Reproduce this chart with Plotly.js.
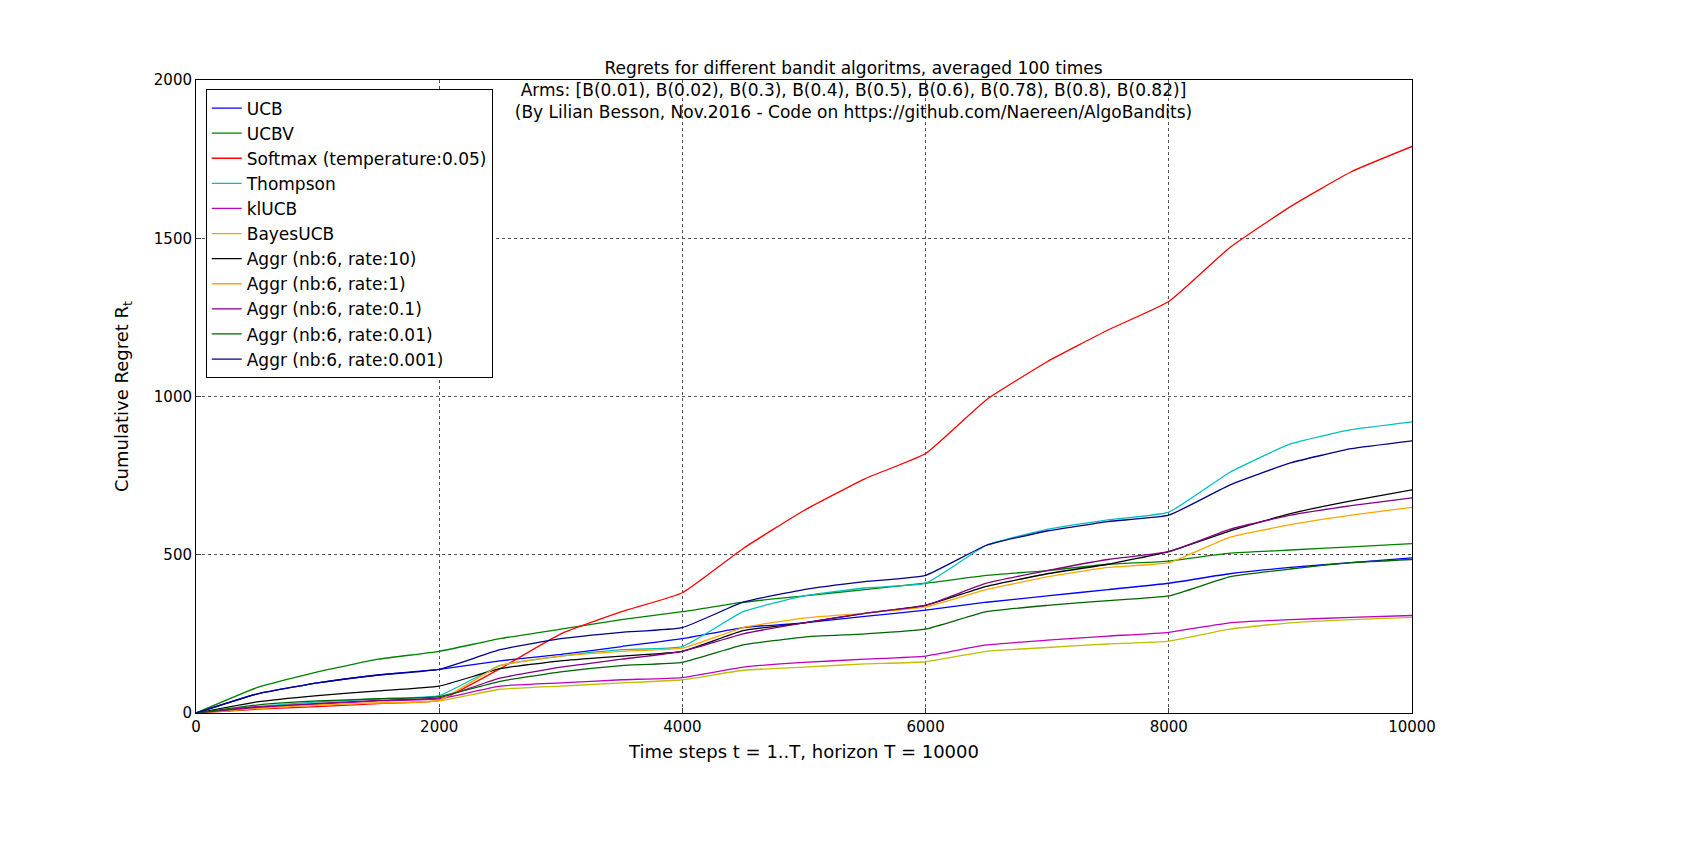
<!DOCTYPE html>
<html>
<head>
<script src="https://cdn.plot.ly/plotly-3.0.1.min.js"></script>
<style>body{margin:0}#plot{width:1707px;height:863px}</style>
</head>
<body>
<div id="plot"></div>
<script>
var steps = [0,500,1000,1500,2000,2500,3000,3500,4000,4500,5000,5500,6000,6500,7000,7500,8000,8500,9000,9500,10000];
var xTicks = [0,2000,4000,6000,8000,10000];
var xTickText = ["0","2000","4000","6000","8000","10000"];

var names = ["UCB","UCBV","Softmax (temperature:0.05)","Thompson","klUCB","BayesUCB",
  "Aggr (nb:6, rate:10)","Aggr (nb:6, rate:1)","Aggr (nb:6, rate:0.1)","Aggr (nb:6, rate:0.01)","Aggr (nb:6, rate:0.001)"];
var colors = ["#0000ff","#008000","#ff0000","#00bfbf","#bf00bf","#bfbf00",
  "#000000","#ffa500","#800080","#006400","#00008b"];

var ucb      = [0,60,95,120,138,165,185,210,235,270,285,305,325,350,370,390,410,440,460,475,490];
var ucbv     = [0,80,130,170,195,235,265,295,320,350,370,390,410,435,450,470,480,505,515,525,535];
var softmax  = [0,12,20,30,40,140,250,320,380,520,640,740,820,990,1110,1210,1300,1470,1600,1710,1790];
var thompson = [0,20,35,45,55,150,180,200,210,320,370,395,410,530,580,610,635,760,850,895,920];
var klucb    = [0,20,28,38,45,85,95,105,112,145,160,170,180,215,230,243,255,285,295,302,308];
var bayesucb = [0,15,25,32,38,75,85,95,105,135,145,155,162,195,207,218,227,265,285,295,302];
var aggr10   = [0,35,55,70,85,140,165,180,195,260,285,315,340,400,440,470,510,575,630,670,705];
var aggr1    = [0,15,25,32,40,150,180,195,205,270,300,315,335,390,430,460,475,555,595,625,650];
var aggr01   = [0,18,30,40,48,110,145,170,195,250,285,315,340,410,450,485,510,580,625,655,680];
var aggr001  = [0,25,38,45,52,100,130,150,160,215,240,250,265,320,340,355,370,430,455,475,485];
var aggr0001 = [0,60,95,120,138,200,235,255,270,350,390,415,435,530,575,605,625,720,790,835,860];

var series = [ucb,ucbv,softmax,thompson,klucb,bayesucb,aggr10,aggr1,aggr01,aggr001,aggr0001];

var data = [];
for (let i = 0; i < series.length; i++) {
  data.push({
    x: steps, y: series[i], mode: 'lines', name: names[i],
    line: {color: colors[i], width: 1.3, shape: 'spline', smoothing: 0.4}
  });
}

var layout = {
  width: 1707, height: 863,
  font: {family: 'DejaVu Sans', size: 15, color: '#000'},
  margin: {l: 196, r: 295, t: 80, b: 150},
  paper_bgcolor: '#fff', plot_bgcolor: '#fff',
  title: {text: 'Regrets for different bandit algoritms, averaged 100 times<br>Arms: [B(0.01), B(0.02), B(0.3), B(0.4), B(0.5), B(0.6), B(0.78), B(0.8), B(0.82)]<br>(By Lilian Besson, Nov.2016 - Code on https://github.com/Naereen/AlgoBandits)',
    x: 0.5, xanchor: 'center', yref: 'paper', y: 1, yanchor: 'bottom',
    pad: {b: 6}, font: {size: 17}},
  xaxis: {range: [0, 10000], tickvals: xTicks, ticktext: xTickText,
    showgrid: true, gridcolor: '#555', griddash: 'dot', gridwidth: 1,
    showline: true, mirror: true, linecolor: '#000', linewidth: 1,
    ticks: 'inside', ticklen: 5, zeroline: false,
    title: {text: 'Time steps t = 1..T, horizon T = 10000', standoff: 10}},
  yaxis: {range: [0, 2000], tickvals: [0,500,1000,1500,2000],
    showgrid: true, gridcolor: '#555', griddash: 'dot', gridwidth: 1,
    showline: true, mirror: true, linecolor: '#000', linewidth: 1,
    ticks: 'inside', ticklen: 5, zeroline: false,
    title: {text: 'Cumulative Regret R<sub>t</sub>', standoff: 20}},
  legend: {x: 0.008, y: 0.985, xanchor: 'left', yanchor: 'top',
    bordercolor: '#000', borderwidth: 1, bgcolor: '#fff',
    font: {size: 17}, tracegroupgap: 0}
};

Plotly.newPlot('plot', data, layout, {displayModeBar: false});
</script>
</body>
</html>
